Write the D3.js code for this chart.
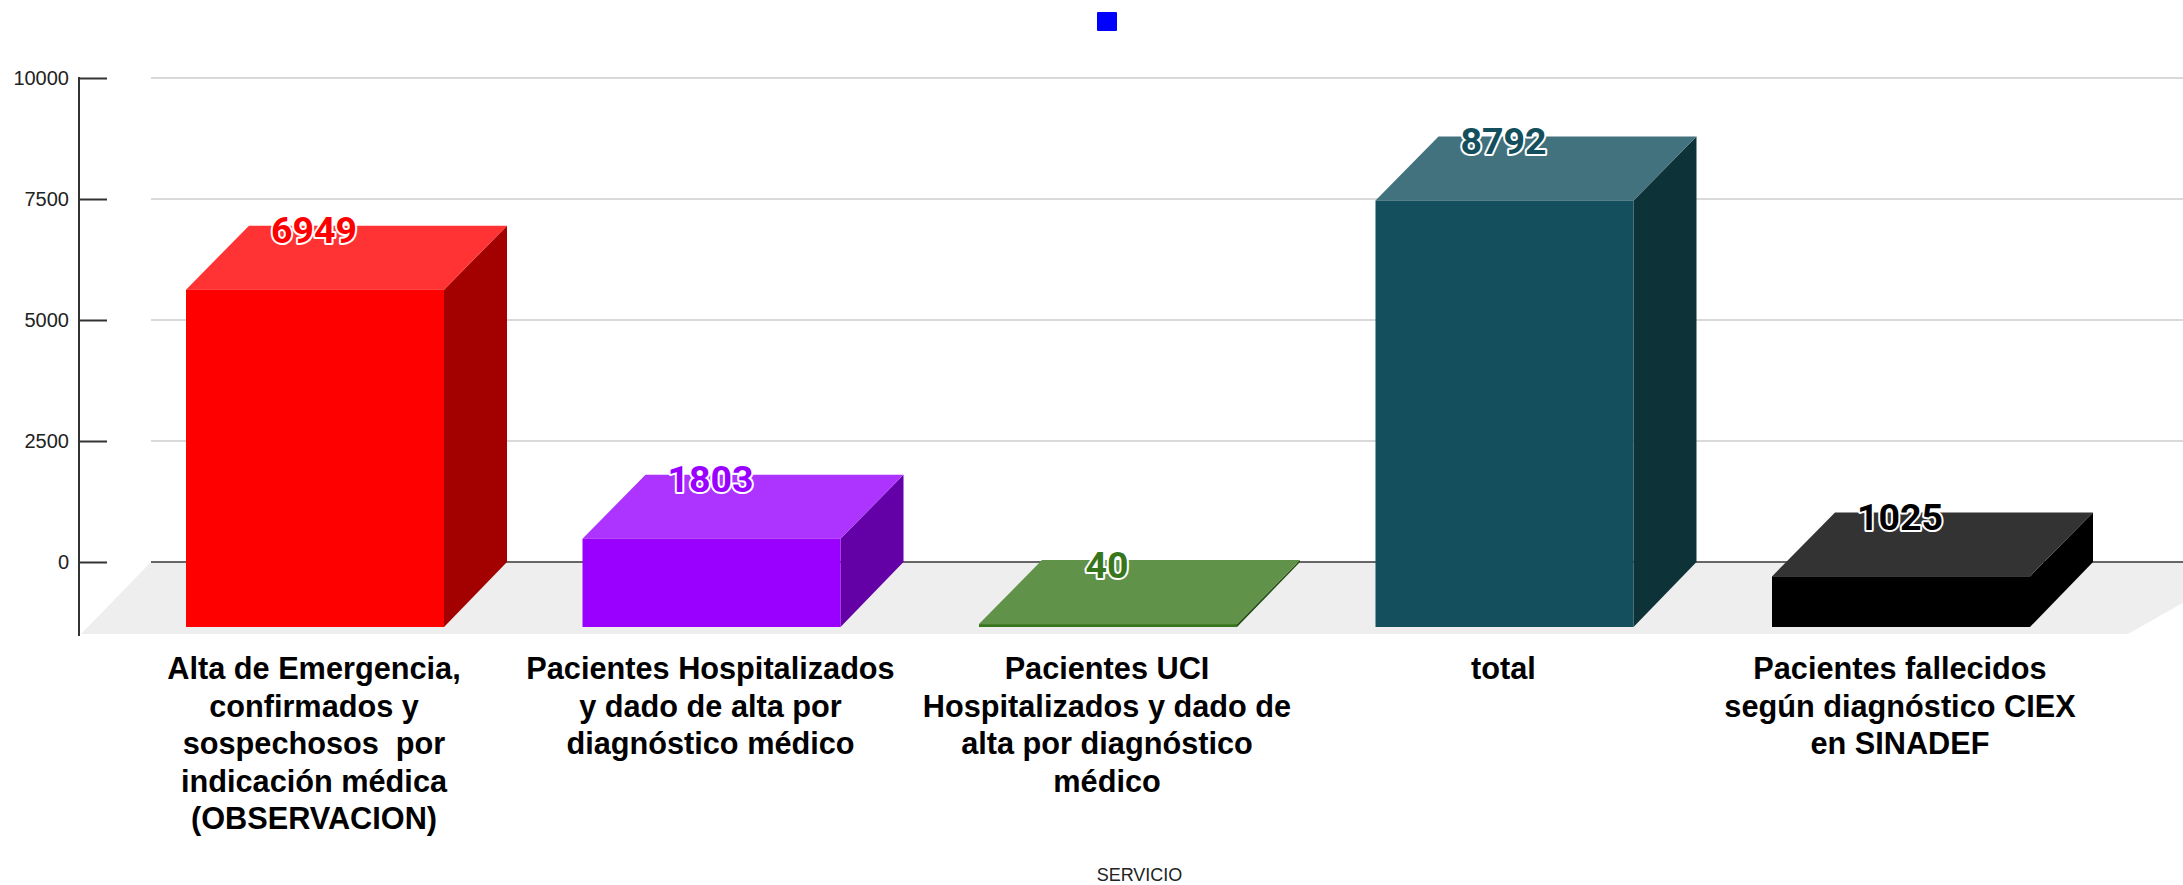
<!DOCTYPE html>
<html><head><meta charset="utf-8">
<script src="https://cdn.jsdelivr.net/npm/d3@7"></script>
<style>html,body{margin:0;padding:0;background:#fff;overflow:hidden}svg{display:block}text{white-space:pre}</style>
</head><body><svg id="c" width="2183" height="885"></svg>
<script>
const categoryLines = [
  ["Alta de Emergencia,","confirmados y","sospechosos  por","indicación médica","(OBSERVACION)"],
  ["Pacientes Hospitalizados","y dado de alta por","diagnóstico médico"],
  ["Pacientes UCI","Hospitalizados y dado de","alta por diagnóstico","médico"],
  ["total"],
  ["Pacientes fallecidos","según diagnóstico CIEX","en SINADEF"]
];
const values = [6949, 1803, 40, 8792, 1025];
const frontColors = ["#ff0000","#9900ff","#38761d","#134f5c","#000000"];
const topColors = ["#ff3333","#ad33ff","#60924a","#42727d","#333333"];
const sideColors = ["#a30000","#6300a6","#244d13","#0d3339","#000000"];
const yTicks = [0, 2500, 5000, 7500, 10000];
const axisTitle = "SERVICIO";

const W = 2183, depthX = 63, depthY = 64;
const svg = d3.select("#c");
const y = d3.scaleLinear().domain([0,10000]).range([562,78]);
const x = d3.scaleBand().domain(d3.range(values.length)).range([186,2030]).paddingInner(0.3493).paddingOuter(0);
const baseY = y(0) + depthY + 1;
const floorBottom = 634, axisX = 79, gridX = 151;

// floor
svg.append("path").attr("fill","#eeeeee")
  .attr("d", d3.line()([[axisX+2,floorBottom],[gridX,y(0)],[W+72,y(0)],[2128,floorBottom]])+"Z");

// grid
svg.append("g").selectAll("line").data(yTicks).join("line")
  .attr("x1",gridX).attr("x2",W).attr("y1",d=>y(d)).attr("y2",d=>y(d))
  .attr("stroke",d=>d===0?"#666666":"#d9d9d9").attr("stroke-width",2);

// y axis
const axis = svg.append("g").attr("transform",`translate(${axisX},0)`)
  .call(d3.axisLeft(y).tickValues(yTicks).tickSize(-28).tickPadding(0).tickFormat(d3.format("d")));
axis.select(".domain").attr("d",`M0,${y(10000)-1}V${floorBottom+2}`).attr("stroke","#333333").attr("stroke-width",2);
axis.selectAll(".tick line").attr("stroke","#333333").attr("stroke-width",2);
axis.selectAll(".tick text").attr("x",-10).attr("dy","0.3em").attr("fill","#222222")
  .attr("font-family","'Liberation Sans',Arial,sans-serif").attr("font-size",20);

// bars
const bars = svg.append("g").selectAll("g").data(values).join("g");
bars.append("path").attr("fill",(d,i)=>sideColors[i])
  .attr("d",(d,i)=>{const r=x(i)+x.bandwidth();return d3.line()([[r,y(d)+depthY],[r+depthX,y(d)],[r+depthX,y(0)],[r,baseY]])+"Z";});
bars.append("path").attr("fill",(d,i)=>topColors[i])
  .attr("d",(d,i)=>{const l=x(i),r=l+x.bandwidth();return d3.line()([[l,y(d)+depthY],[l+depthX,y(d)],[r+depthX,y(d)],[r,y(d)+depthY]])+"Z";});
bars.append("rect").attr("fill",(d,i)=>frontColors[i])
  .attr("x",(d,i)=>x(i)).attr("width",x.bandwidth())
  .attr("y",d=>y(d)+depthY).attr("height",d=>baseY-(y(d)+depthY));

// value labels
svg.append("g").selectAll("text").data(values).join("text")
  .attr("x",(d,i)=>x(i)+x.bandwidth()/2-1).attr("y",d=>y(d)+17.5)
  .attr("text-anchor","middle").attr("font-family","Roboto,sans-serif").attr("font-weight",700).attr("font-size",37.5)
  .attr("fill",(d,i)=>frontColors[i]).attr("stroke","#ffffff").attr("stroke-width",4).attr("stroke-linejoin","round")
  .attr("paint-order","stroke").text(d=>d);

// category labels
const cats = svg.append("g").selectAll("text").data(categoryLines).join("text")
  .attr("text-anchor","middle").attr("font-family","'Liberation Sans',Arial,sans-serif")
  .attr("font-weight",700).attr("font-size",30.7).attr("fill","#000");
cats.selectAll("tspan").data((d,i)=>d.map(t=>({t,i}))).join("tspan")
  .attr("x",d=>x(d.i)+x.bandwidth()/2-1).attr("y",(d,j)=>679+j*37.5).text(d=>d.t);

// axis title
svg.append("text").attr("x",1139.5).attr("y",881).attr("text-anchor","middle")
  .attr("font-family","'Liberation Sans',Arial,sans-serif").attr("font-size",18).attr("fill","#222").text(axisTitle);

// legend swatch
svg.append("rect").attr("x",1097).attr("y",12).attr("width",20).attr("height",19).attr("rx",1).attr("fill","#0000ff");
</script></body></html>
